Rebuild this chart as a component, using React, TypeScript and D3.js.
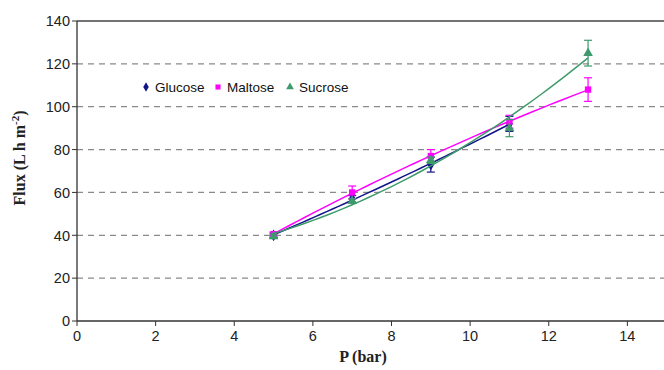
import React from 'react';
import * as d3 from 'd3';

// pressure values (bar)
const pressure = [5, 7, 9, 11, 13];
const glucose = [40, 57, 73, 92];
const glucoseErr = [1, 1.5, 3.5, 3.5];
const maltose = [40.5, 60, 77, 93, 108];
const maltoseErr = [1, 3, 3, 3, 5.5];
const sucrose = [39.5, 56, 75, 90, 125];
const sucroseErr = [1, 1, 1.5, 4, 6];
const yTicks = [0, 20, 40, 60, 80, 100, 120, 140];
const xTicks = [0, 2, 4, 6, 8, 10, 12, 14];

const series = [
  { name: 'Glucose', values: glucose, err: glucoseErr, color: '#14148a', shape: d3.symbolDiamond },
  { name: 'Maltose', values: maltose, err: maltoseErr, color: '#ff00ff', shape: d3.symbolSquare },
  { name: 'Sucrose', values: sucrose, err: sucroseErr, color: '#3d9a6a', shape: d3.symbolTriangle },
];

// 2nd order polynomial trendline (least squares), like Excel's
function quadFit(xs: number[], ys: number[]) {
  const s = [0, 0, 0, 0, 0];
  const t = [0, 0, 0];
  xs.forEach((xv, i) => {
    for (let k = 0; k < 5; k++) s[k] += Math.pow(xv, k);
    for (let k = 0; k < 3; k++) t[k] += Math.pow(xv, k) * ys[i];
  });
  const m = [
    [s[0], s[1], s[2], t[0]],
    [s[1], s[2], s[3], t[1]],
    [s[2], s[3], s[4], t[2]],
  ];
  for (let i = 0; i < 3; i++) {
    for (let j = i + 1; j < 3; j++) {
      const f = m[j][i] / m[i][i];
      for (let k = i; k < 4; k++) m[j][k] -= f * m[i][k];
    }
  }
  const c = [0, 0, 0];
  for (let i = 2; i >= 0; i--) {
    let v = m[i][3];
    for (let k = i + 1; k < 3; k++) v -= m[i][k] * c[k];
    c[i] = v / m[i][i];
  }
  return (xv: number) => c[0] + c[1] * xv + c[2] * xv * xv;
}

export default function App() {
  const width = 664;
  const height = 370;
  const x = d3.scaleLinear().domain([0, 16]).range([77, 706]);
  const y = d3.scaleLinear().domain([0, 140]).range([321, 21]);

  const line = d3
    .line<[number, number]>()
    .x(d => x(d[0]))
    .y(d => y(d[1]));

  const sans = 'Arial, "Liberation Sans", sans-serif';
  const serif = '"Times New Roman", "Liberation Serif", serif';

  return (
    <svg width={width} height={height} style={{ position: 'absolute', left: 0, top: 0, background: '#fff' }}>
      {/* gridlines */}
      {yTicks.filter(t => t > 0 && t < 140).map(t => (
        <line key={'g' + t} x1={x(0)} x2={width} y1={y(t)} y2={y(t)}
          stroke="#8a8a8a" strokeWidth={1.2} strokeDasharray="6,5" />
      ))}
      <line x1={x(0)} x2={width} y1={y(140)} y2={y(140)} stroke="#444" strokeWidth={1.3} />

      {/* axes */}
      <line x1={x(0)} x2={x(0)} y1={y(0)} y2={y(140)} stroke="#333" strokeWidth={1.3} />
      <line x1={x(0)} x2={width} y1={y(0)} y2={y(0)} stroke="#333" strokeWidth={1.3} />
      {yTicks.map(t => (
        <g key={'y' + t}>
          <line x1={x(0) - 5} x2={x(0)} y1={y(t)} y2={y(t)} stroke="#333" />
          <text x={x(0) - 7} y={y(t)} dy="0.36em" textAnchor="end" fontFamily={sans} fontSize={14.5} fill="#222">{t}</text>
        </g>
      ))}
      {xTicks.map(t => (
        <g key={'x' + t}>
          <line x1={x(t)} x2={x(t)} y1={y(0)} y2={y(0) + 5} stroke="#333" />
          <text x={x(t)} y={y(0) + 20} textAnchor="middle" fontFamily={sans} fontSize={14.5} fill="#222">{t}</text>
        </g>
      ))}

      <text x={363} y={362} textAnchor="middle" fontFamily={serif} fontWeight="bold" fontSize={16} fill="#222">P (bar)</text>
      <text transform="translate(25,158) rotate(-90)" textAnchor="middle" fontFamily={serif} fontWeight="bold" fontSize={16} fill="#222">
        Flux (L h m<tspan dy="-6" fontSize={11}>-2</tspan><tspan dy="6">)</tspan>
      </text>

      {/* series */}
      {series.map(s => {
        const xs = pressure.slice(0, s.values.length);
        const pts = s.values.map((v, i) => [xs[i], v] as [number, number]);
        const f = quadFit(xs, s.values);
        const lo = xs[0];
        const hi = xs[xs.length - 1];
        const fitPts = d3.range(0, 41).map(k => {
          const xv = lo + ((hi - lo) * k) / 40;
          return [xv, f(xv)] as [number, number];
        });
        return (
          <g key={s.name}>
            <path d={line(fitPts) || ''} fill="none" stroke={s.color} strokeWidth={1.5} />
            {pts.map((p, i) => (
              <g key={i} stroke={s.color} strokeWidth={1.2}>
                <line x1={x(p[0])} x2={x(p[0])} y1={y(p[1] - s.err[i])} y2={y(p[1] + s.err[i])} />
                <line x1={x(p[0]) - 4} x2={x(p[0]) + 4} y1={y(p[1] - s.err[i])} y2={y(p[1] - s.err[i])} />
                <line x1={x(p[0]) - 4} x2={x(p[0]) + 4} y1={y(p[1] + s.err[i])} y2={y(p[1] + s.err[i])} />
              </g>
            ))}
            {pts.map((p, i) => (
              <path key={'m' + i} transform={`translate(${x(p[0])},${y(p[1])})`}
                d={d3.symbol().type(s.shape).size(40)() || ''} fill={s.color} />
            ))}
          </g>
        );
      })}

      {/* legend */}
      {series.map((s, i) => {
        const lx = 146 + i * 72;
        return (
          <g key={'l' + s.name} transform={`translate(${lx},87)`}>
            <path d={d3.symbol().type(s.shape).size(26)() || ''} fill={s.color} />
            <text x={9} dy="0.36em" fontFamily={sans} fontSize={13.5} fill="#111">{s.name}</text>
          </g>
        );
      })}
    </svg>
  );
}
